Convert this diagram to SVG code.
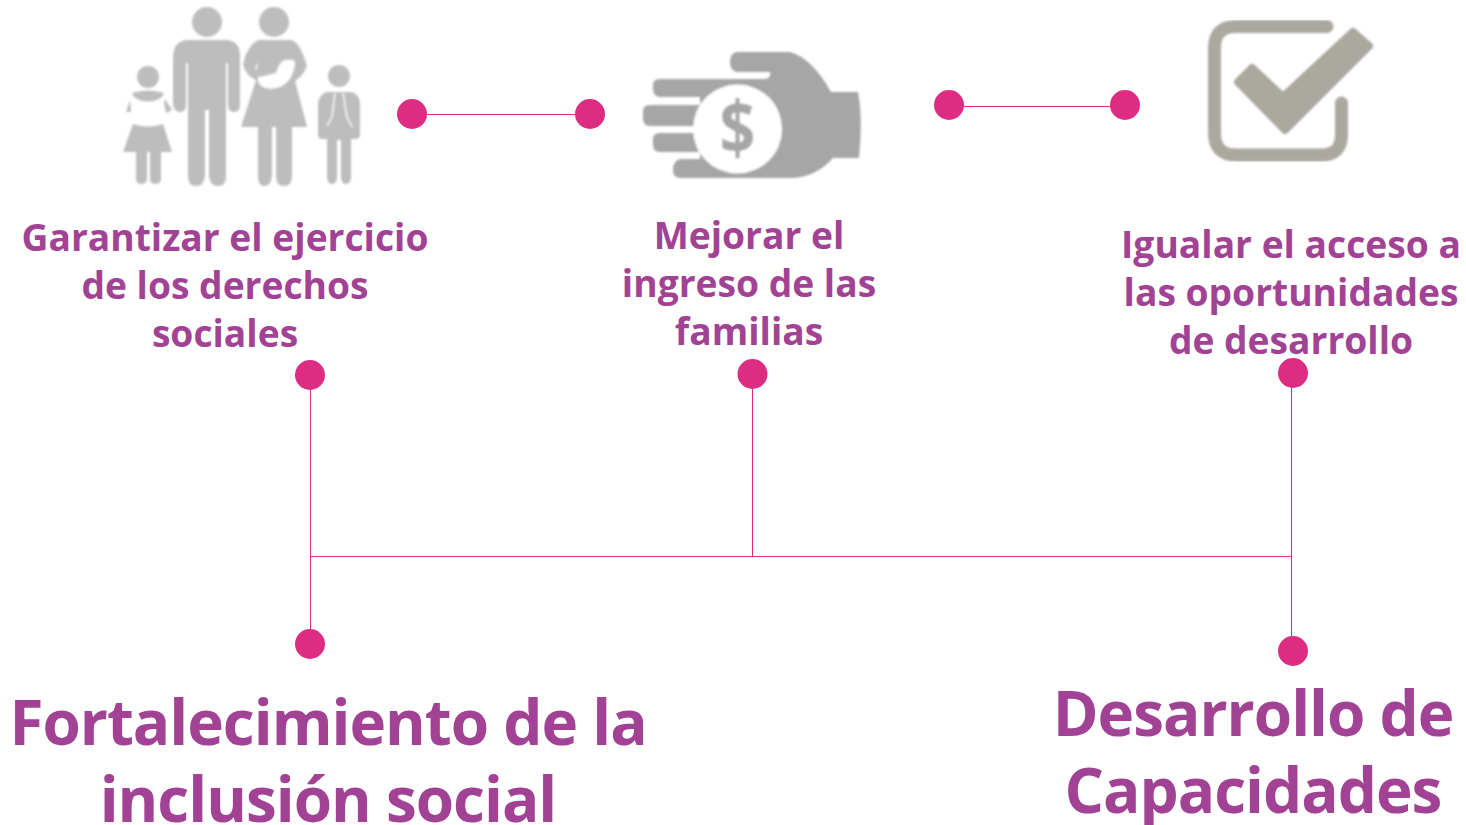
<svg xmlns="http://www.w3.org/2000/svg" width="1466" height="825" viewBox="0 0 1466 825">
<style>
.t{font-family:"Open Sans","Noto Sans","Liberation Sans",sans-serif;fill:#a24295;text-anchor:middle}
.s{font-size:37.200px;font-weight:700}
.b{font-size:62px;font-weight:700;letter-spacing:-1px}
.l{stroke:#e0297f;stroke-width:1;fill:none}
.d{fill:#dd2d83}
.fam{fill:#bdbdbd}
.w{fill:#fff}
.ws{stroke:#fff;stroke-width:1.300;fill:none}
</style>
<defs><filter id="bl" x="-5%" y="-5%" width="110%" height="110%"><feGaussianBlur stdDeviation="0.9"/></filter></defs>
<rect width="1466" height="825" fill="#fff"/>
<g id="connectors">
<path class="l" d="M412 114.500H590M949 106.500H1125M310.500 375V644M752.500 374V556M1291.500 374V651M310 556.500H1291"/>
</g>
<g id="icon-family" filter="url(#bl)">
<circle class="fam" cx="207" cy="22" r="15"/>
<path class="fam" d="M187 40H227Q240 41 240 56V104Q240 112 234 112Q228 112 228 104V63H226V176Q226 186 218 186Q210 186 209 176V110H205V176Q204 186 196 186Q188 186 188 176V63H186V104Q186 112 180 112Q174 112 173 104V56Q174 41 187 40Z"/>
<circle class="fam" cx="274" cy="22" r="15"/>
<path class="fam" d="M258 40H291Q300 42 307 66Q303 76 295 81L307 127H292V176Q292 186 284 186Q276 186 276 176V127H272V176Q271 186 264 186Q258 186 258 176V127H241L256 80Q245 75 243 64Q247 46 258 40Z"/>
<path class="w" d="M258 77Q266 76 276 73Q279 62 285 60H294L295 64Q293 80 282 86Q272 91 263 87Q257 84 258 77Z"/>
<path class="ws" d="M257 64L256 70"/>
<circle class="fam" cx="148" cy="77" r="11"/>
<path class="fam" d="M132 93Q148 88 164 93L162 97Q148 106 134 97ZM126 112L130 100L131 112ZM165 99L172 110L166 113L164 103ZM133 124Q148 129 163 124L172 152H161V180Q160 184 155 184Q151 184 150 180V152H147V180Q146 184 141 184Q137 184 136 180V152H123Z"/>
<circle class="fam" cx="339" cy="76" r="11"/>
<path class="fam" d="M327 92H351Q360 94 360 104V134Q360 139 356 139H351V178Q350 184 346 184Q342 184 341 178V140H337V178Q336 184 332 184Q328 184 327 178V139H322Q318 139 318 134V104Q319 94 327 92Z"/>
<path class="ws" d="M335 93L332 117L327 126M343 93L347 117L352 127"/>
</g>
<g id="icon-hand" filter="url(#bl)">
<path fill="#a6a6a6" d="M737 52H790Q812 58 831 92H858Q863 118 859 158H833Q815 178 790 178H680Q673 178 673 170Q673 160 681 159H700V152H660Q653 152 653 145V139Q653 133 660 133H695V126H650Q643 126 643 119V111Q643 105 650 105H700V97H660Q653 96 653 89V85Q653 79 660 79H766Q771 78 770 72H737Q730 71 730 62Q730 53 737 52Z"/>
<circle class="w" cx="737.500" cy="129" r="44.500"/>
<text x="0" y="0" transform="translate(737.500 154) scale(.85 1)" font-family="'Open Sans',sans-serif" font-size="74" font-weight="700" fill="#a6a6a6" text-anchor="middle">$</text>
</g>
<g id="icon-check" filter="url(#bl)">
<path fill="none" stroke="#aaa89f" stroke-width="13" stroke-linecap="round" d="M1327 26.500H1236Q1214.500 26.500 1214.500 48V133Q1214.500 155 1236 155H1321Q1341.500 155 1341.500 135V103"/>
<path fill="#aaa89f" stroke="#aaa89f" stroke-width="8" stroke-linejoin="round" d="M1238 82L1252 68L1283 97L1353 32L1369 46L1285 130Z"/>
</g>
<g id="node-derechos">
<text class="t s" x="225" y="251">Garantizar el ejercicio</text>
<text class="t s" x="225" y="299">de los derechos</text>
<text class="t s" x="225" y="347">sociales</text>
<circle class="d" cx="310" cy="375" r="15"/>
</g>
<g id="node-ingreso">
<text class="t s" x="749" y="249">Mejorar el</text>
<text class="t s" x="749" y="297">ingreso de las</text>
<text class="t s" x="749" y="345">familias</text>
<circle class="d" cx="752.500" cy="374" r="15"/>
</g>
<g id="node-igualar">
<text class="t s" x="1291" y="258">Igualar el acceso a</text>
<text class="t s" x="1291" y="306">las oportunidades</text>
<text class="t s" x="1291" y="354">de desarrollo</text>
<circle class="d" cx="1293" cy="373" r="15"/>
</g>
<g id="node-dots-top">
<circle class="d" cx="412" cy="114" r="15"/>
<circle class="d" cx="590" cy="114" r="15"/>
<circle class="d" cx="949" cy="105" r="15"/>
<circle class="d" cx="1125" cy="105" r="15"/>
</g>
<g id="node-inclusion">
<circle class="d" cx="310" cy="644" r="15"/>
<text class="t b" x="328" y="745">Fortalecimiento de la</text>
<text class="t b" x="328" y="822">inclusión social</text>
</g>
<g id="node-capacidades">
<circle class="d" cx="1293" cy="651" r="15"/>
<text class="t b" x="1253" y="736">Desarrollo de</text>
<text class="t b" x="1253" y="813">Capacidades</text>
</g>
</svg>
